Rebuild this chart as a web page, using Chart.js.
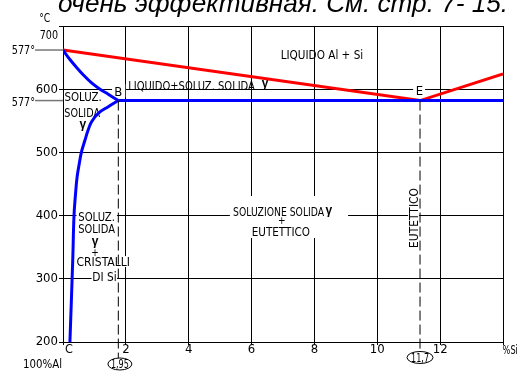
<!DOCTYPE html>
<html><head><meta charset="utf-8">
<script src="https://cdn.jsdelivr.net/npm/chart.js@4/dist/chart.umd.min.js"></script>
<style>html,body{margin:0;padding:0;background:#fff;}canvas{display:block}</style>
</head><body>
<canvas id="c" width="527" height="373"></canvas>
<script>
const FONT = "'Liberation Sans Narrow','DejaVu Sans Condensed','Arial Narrow',sans-serif";

// ---- data ----
const xTickValues = [0, 2, 4, 6, 8, 10, 12, 14];      // % Si
const yTickValues = [200, 300, 400, 500, 600, 700];   // °C
const liquidusSi = [0, 11.36, 14];
const liquidusT  = [662, 582, 624];
const eutecticSi = [1.76, 14];
const eutecticT  = [582, 582];
const solidusSi  = [0, 0.22, 0.44, 0.65, 0.91, 1.18, 1.44, 1.76];
const solidusT   = [662, 647, 634, 622.5, 610, 600, 592, 582];
const solvusSi   = [1.76, 1.44, 1.12, 0.91, 0.80, 0.70, 0.59, 0.52, 0.45, 0.40, 0.35, 0.31, 0.22];
const solvusT    = [582, 572.3, 561.9, 548.6, 535.4, 519.6, 501.1, 482.8, 461.6, 435.3, 399.8, 329.7, 200];
const pointBSi = [1.76, 1.76];
const pointBT  = [582, 174.7];
const pointESi = [11.36, 11.36];
const pointET  = [582, 184.7];

const toXY = (xs, ys) => xs.map((x, i) => ({x, y: ys[i]}));

// ---- annotations (data coordinates) ----
const labels = [
  {t:'LIQUIDO Al + Si', x:8.24, y:655.2, w:82.6},
  {t:'LIQUIDO+SOLUZ. SOLIDA', x:4.09, y:606.6, w:126.7},
  {t:'γ', x:6.43, y:606.6, g:1},
  {t:'B', x:1.76, y:595.9, s:13},
  {t:'E', x:11.34, y:598.7, s:13},
  {t:'SOLUZ.', x:0.64, y:587.7, w:37.4},
  {t:'SOLIDA', x:0.61, y:563.1, w:35.7},
  {t:'γ', x:0.63, y:541.8, g:1},
  {t:'SOLUZ.', x:1.07, y:398.3, w:36.7},
  {t:'SOLIDA', x:1.07, y:379.9, w:36.7},
  {t:'γ', x:1.02, y:356.2, g:1},
  {t:'+', x:1.02, y:342.1, s:10},
  {t:'CRISTALLI', x:1.28, y:327.1, w:53.3},
  {t:'DI Si', x:1.32, y:304.4, w:24.4},
  {t:'SOLUZIONE SOLIDA', x:6.86, y:406.2, w:91},
  {t:'γ', x:8.46, y:405.7, g:1},
  {t:'+', x:6.96, y:393, s:10},
  {t:'EUTETTICO', x:6.93, y:374.5, w:58.3},
  {t:'EUTETTICO', x:11.15, y:396.2, w:60, r:-Math.PI/2},
  {t:'°C', x:-0.58, y:713.4, w:11},
  {t:'577°', x:-1.26, y:662.8, w:23.3, s:13},
  {t:'577°', x:-1.26, y:581.3, w:23.3, s:13},
  {t:'700', x:-0.45, y:687.3, w:18.3, s:13},
  {t:'C', x:0.19, y:190.5, s:12.5},
  {t:'%Si', x:14.23, y:188.9, w:15.3},
  {t:'100%Al', x:-0.65, y:166.3, w:39, s:12.5},
];
const ovals = [
  {t:'1,95', x:1.81, y:165.2, w:18, rx:12, ry:6},
  {t:'11,7', x:11.36, y:175.5, w:18, rx:13, ry:6},
];
const boxes = [
  {x0:1.56, x1:1.98, t0:608, t1:587},
  {x0:11.14, x1:11.52, t0:608, t1:587},
  {x0:0.43, x1:1.72, t0:409, t1:371},
  {x0:0.41, x1:2.16, t0:336, t1:318.7},
  {x0:0.91, x1:1.72, t0:312, t1:293},
  {x0:5.31, x1:9.07, t0:431, t1:364.5},
  {x0:10.98, x1:11.33, t0:447, t1:345.6},
];

function drawLabel(ctx, l, px, py) {
  const size = l.s || 12.5;
  ctx.save();
  ctx.font = l.g ? `bold 12px 'Liberation Sans',Arial,sans-serif` : `${size}px ${FONT}`;
  const m = ctx.measureText(l.t).width;
  const sx = l.w ? l.w / m : 1;
  ctx.translate(px, py);
  if (l.r) ctx.rotate(l.r);
  ctx.scale(sx, 1);
  ctx.textAlign = 'center';
  ctx.textBaseline = 'alphabetic';
  ctx.fillStyle = '#000';
  ctx.fillText(l.t, 0, l.g ? 2 : size * 0.36);
  ctx.restore();
}

const annot = {
  id: 'annot',
  beforeDatasetsDraw(chart) {
    const ctx = chart.ctx, xs = chart.scales.x, ys = chart.scales.y;
    const X = v => xs.getPixelForValue(v), Y = v => ys.getPixelForValue(v);
    ctx.save();
    ctx.fillStyle = '#fff';
    boxes.forEach(b => {
      const x0 = X(b.x0), x1 = X(b.x1), y0 = Y(b.t0), y1 = Y(b.t1);
      ctx.fillRect(Math.min(x0, x1), Math.min(y0, y1), Math.abs(x1 - x0), Math.abs(y1 - y0));
    });
    // grey leader lines for 577°
    ctx.strokeStyle = '#777'; ctx.lineWidth = 1.5;
    [liquidusT[0], eutecticT[0]].forEach(t => {
      ctx.beginPath(); ctx.moveTo(X(-0.89), Y(t)); ctx.lineTo(X(0), Y(t)); ctx.stroke();
    });
    labels.forEach(l => drawLabel(ctx, l, X(l.x), Y(l.y)));
    ctx.strokeStyle = '#000'; ctx.lineWidth = 1;
    ovals.forEach(o => {
      const cx = X(o.x), cy = Y(o.y);
      ctx.beginPath(); ctx.ellipse(cx, cy, o.rx, o.ry, 0, 0, Math.PI * 2); ctx.stroke();
      drawLabel(ctx, {t:o.t, w:o.w, s:12}, cx, cy);
    });
    // cropped heading of the page above the chart
    const head = 'очень эффективная. См. стр. 7- 15.';
    ctx.font = "italic 25px 'Liberation Sans',Arial,sans-serif";
    const hw = ctx.measureText(head).width;
    ctx.fillStyle = '#000'; ctx.textAlign = 'left'; ctx.textBaseline = 'alphabetic';
    ctx.translate(58, 11.5);
    ctx.scale(450 / hw, 1);
    ctx.fillText(head, 0, 0);
    ctx.restore();
  }
};

const dashed = {borderColor:'#000', borderWidth:1, borderDash:[10,4], pointRadius:0, clip:false, tension:0};
new Chart(document.getElementById('c'), {
  type: 'scatter',
  data: { datasets: [
    Object.assign({data: toXY(pointBSi, pointBT), showLine:true}, dashed),
    Object.assign({data: toXY(pointESi, pointET), showLine:true}, dashed),
    {data: toXY(eutecticSi, eutecticT), showLine:true, borderColor:'#0000ff', borderWidth:3, pointRadius:0},
    {data: toXY(solidusSi, solidusT), showLine:true, borderColor:'#0000ff', borderWidth:3, pointRadius:0, tension:0.4},
    {data: toXY(solvusSi, solvusT), showLine:true, borderColor:'#0000ff', borderWidth:3, pointRadius:0, tension:0.4},
    {data: toXY(liquidusSi, liquidusT), showLine:true, borderColor:'#ff0000', borderWidth:3, pointRadius:0},
  ]},
  options: {
    responsive: false, animation: false, devicePixelRatio: 1,
    layout: { padding: { top: 26, right: 24, left: 0, bottom: 0 } },
    plugins: { legend: {display:false}, tooltip: {enabled:false} },
    scales: {
      x: {
        type: 'linear', min: 0, max: 14,
        afterBuildTicks: s => { s.ticks = xTickValues.map(v => ({value: v})); },
        afterFit: s => { s.height = 31; },
        ticks: { callback: v => (v === 0 || v === 14) ? '' : String(v), color:'#000',
                 font: {family: FONT, size: 13}, padding: -3, maxRotation: 0, autoSkip: false },
        grid: { color: '#000', lineWidth: 1, tickLength: 3 },
        border: { color: '#000', width: 1 }
      },
      y: {
        type: 'linear', min: 200, max: 700,
        afterBuildTicks: s => { s.ticks = yTickValues.map(v => ({value: v})); },
        afterFit: s => { s.width = 63; },
        ticks: { callback: v => v === 700 ? '' : String(v), color:'#000',
                 font: {family: FONT, size: 13}, padding: 1 },
        grid: { color: '#000', lineWidth: 1, tickLength: 4 },
        border: { color: '#000', width: 1 }
      }
    }
  },
  plugins: [annot]
});
</script>
</body></html>
